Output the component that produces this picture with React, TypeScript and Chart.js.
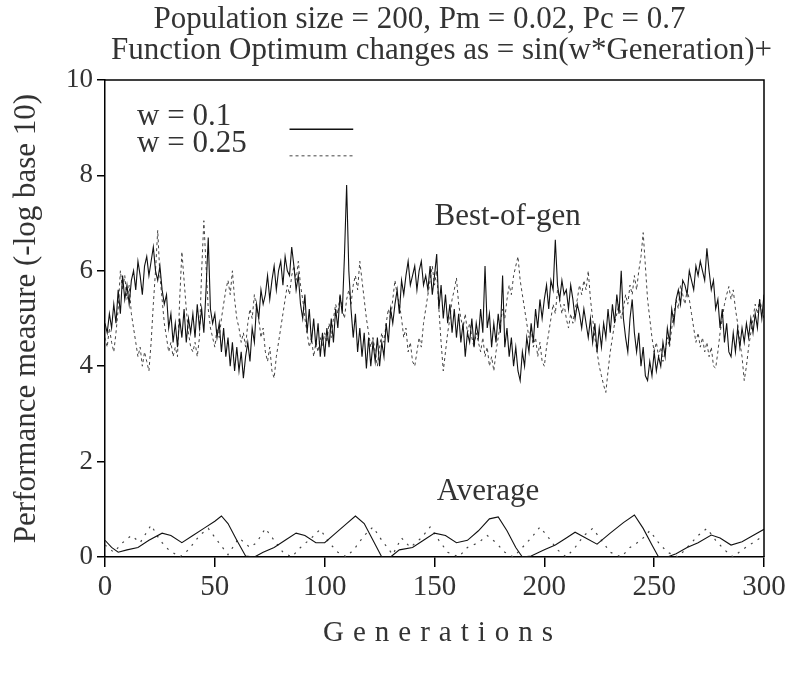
import React, { useEffect, useRef } from "react";
import { Chart, registerables } from "chart.js";

Chart.register(...registerables);

// ---------- DATA ----------
const titleLines = [
  "Population size = 200, Pm = 0.02, Pc = 0.7",
  "Function Optimum changes as = sin(w*Generation)+",
];
const yAxisTitle = "Performance measure (-log base 10)";
const xAxisTitle = "Generations";
const seriesLabels = ["w = 0.1", "w = 0.25"];
const yTicks = [0, 2, 4, 6, 8, 10];
const xTicks = [0, 50, 100, 150, 200, 250, 300];

// Best-of-generation, w = 0.1 (one value per generation 0..300)
const bestW01 = [
  4.9, 4.7, 5.1, 4.8, 5.3, 4.9, 5.6, 5.1, 5.9, 5.4,
  5.7, 5.3, 5.8, 6.0, 5.6, 6.2, 5.9, 5.5, 6.1, 6.3,
  5.9, 6.2, 6.5, 6.0, 5.8, 6.1, 5.6, 5.3, 5.5, 4.8,
  5.1, 4.5, 4.9, 4.4, 5.0, 4.6, 5.2, 4.5, 5.0, 4.7,
  5.1, 4.6, 5.3, 4.8, 5.2, 4.7, 5.6, 6.7, 5.2, 4.9,
  5.1, 4.6, 4.9, 4.3, 4.8, 4.2, 4.6, 4.0, 4.5, 3.9,
  4.4, 3.9, 4.3, 3.75, 4.2, 4.5, 4.1, 4.8, 4.5, 5.3,
  5.0, 5.6, 5.3, 5.5, 5.9, 5.4, 5.8, 6.1, 5.6, 6.0,
  6.2, 5.7, 6.3, 6.0, 5.9, 6.5, 6.1, 5.6, 5.9, 5.3,
  5.0, 5.5, 4.7, 5.2, 4.5, 5.0, 4.4, 4.9, 4.2, 4.7,
  4.2, 4.8, 4.4, 5.0, 4.5, 5.2, 4.8, 5.5, 5.1, 6.3,
  7.8, 6.0, 5.2, 4.6, 5.1, 4.3, 4.8, 4.2, 4.7, 3.95,
  4.6, 4.0, 4.5, 4.1, 4.6, 4.0, 4.5, 4.2, 4.9, 4.5,
  5.2, 4.9, 5.3, 5.6, 5.1, 5.8, 5.5, 5.9, 6.2, 5.7,
  5.9, 6.1, 5.6, 6.0, 6.2, 5.7, 5.9, 5.6, 6.1, 5.5,
  5.9, 6.35, 5.2, 5.7, 5.0, 5.5, 4.9, 5.3, 4.7, 5.2,
  4.6, 5.1, 4.5, 4.9, 4.2, 4.7, 4.5, 5.0, 4.4, 4.9,
  4.6, 5.2, 4.7, 6.1, 4.8, 5.1, 4.4, 4.9, 4.5, 5.1,
  4.7, 5.9, 4.4, 4.8, 4.2, 4.6, 4.0, 4.4, 3.9, 3.7,
  4.3, 4.0, 4.6, 4.3, 4.9, 4.5, 5.2, 4.8, 5.4, 5.0,
  5.4, 5.7, 5.2, 5.8, 5.6, 6.65, 5.7, 5.4, 5.8, 5.5,
  5.6, 5.2, 5.7, 5.4, 5.0, 5.3, 5.1, 4.8, 5.2, 4.9,
  4.6, 5.0, 4.5, 4.9, 4.3, 4.8, 4.4, 4.9, 4.6, 5.2,
  4.7, 5.3, 4.9, 5.5, 5.1, 6.0, 5.0, 4.6, 4.3, 5.0,
  5.4, 4.7, 4.3, 4.7, 4.0, 4.4, 3.8, 3.7, 4.1, 3.8,
  4.3, 3.9, 4.2, 4.0, 4.5, 4.2, 4.8, 4.5, 5.2, 4.9,
  5.4, 5.6, 5.3, 5.8, 5.7, 5.5, 6.0, 5.8, 5.6, 6.1,
  5.9, 6.2, 6.0, 5.8, 6.47, 6.0, 5.6, 5.8, 5.2, 5.4,
  4.8, 5.2, 4.5, 4.9, 4.3, 4.2, 4.7, 4.3, 4.8, 4.4,
  4.8, 4.5, 4.9, 4.6, 5.0, 4.7, 5.1, 4.8, 5.4, 5.0,
  5.5,
];

// Best-of-generation, w = 0.25 (one value per generation 0..300)
const bestW025 = [
  4.6, 4.4, 4.8, 4.5, 4.3, 4.7, 5.2, 6.0, 5.6, 5.9,
  5.4, 5.7, 5.1, 4.8, 4.5, 4.2, 4.4, 4.0, 4.3, 4.1,
  3.9, 4.5, 5.3, 6.0, 6.85, 5.9, 5.4, 4.9, 4.6, 4.3,
  4.5, 4.2, 4.4, 4.2, 5.4, 6.4, 5.8, 5.2, 4.7, 4.4,
  4.3, 4.5, 4.2, 4.6, 6.0, 7.05, 6.1, 5.2, 4.8, 4.6,
  4.4, 4.8, 4.6, 5.0, 5.3, 5.6, 5.8, 5.5, 6.0, 5.4,
  5.0, 4.8, 4.5, 4.7, 4.4, 4.9, 5.2, 5.0, 5.5, 5.2,
  5.0, 4.6, 4.8, 4.3, 4.1, 4.4, 3.9, 3.75, 4.2, 4.5,
  4.8, 5.1, 5.4, 5.7, 5.5, 5.9, 6.1, 5.8, 6.2, 5.7,
  5.4, 5.0, 4.7, 4.4, 4.6, 4.2, 4.5, 4.3, 4.6, 4.4,
  4.7, 4.5, 4.9, 4.6, 5.0, 5.3, 5.1, 5.5, 5.2, 5.0,
  5.4, 5.6, 5.3, 5.7, 5.9, 5.6, 6.2, 5.8, 5.4, 5.0,
  4.7, 4.4, 4.6, 4.3, 4.0, 4.4, 4.7, 4.5, 4.9, 5.2,
  5.0, 5.4, 5.8, 5.5, 5.3, 5.0, 4.6, 4.8, 4.3, 4.5,
  4.1, 4.0, 4.3, 4.6, 4.4, 4.9, 5.2, 5.5, 5.8, 6.1,
  5.7, 6.0, 5.2, 4.5, 3.9, 4.3, 4.7, 5.0, 5.4, 5.6,
  5.85, 5.3, 5.0, 4.8, 5.1, 4.7, 4.9, 4.6, 4.4, 4.7,
  4.5, 4.3, 4.6, 4.2, 4.4, 4.0, 4.2, 3.9, 4.3, 4.6,
  4.9, 5.2, 5.0, 5.4, 5.7, 5.5, 5.9, 6.1, 6.3, 5.8,
  5.5, 5.2, 4.9, 4.6, 4.8, 4.4, 4.6, 4.2, 4.5, 4.1,
  4.0, 4.4, 4.7, 5.0, 5.3, 5.1, 5.6, 5.4, 5.1, 5.3,
  5.0, 4.8, 5.1, 4.9, 5.2, 5.4, 5.7, 5.5, 5.8, 5.6,
  6.0, 5.4, 5.0, 4.6, 4.3, 4.0, 3.8, 3.6, 3.45, 3.9,
  4.3, 4.6, 4.9, 5.1, 5.3, 5.0, 5.2, 5.5, 5.3, 5.7,
  5.5, 5.9, 5.6, 6.0, 6.3, 6.8, 6.1, 5.4, 5.0, 4.6,
  4.3, 4.5, 4.2, 4.4, 4.1, 4.3, 4.6, 4.4, 4.8, 5.1,
  5.4, 5.2, 5.7, 5.5, 5.3, 5.6, 5.4, 5.1, 4.8, 4.5,
  4.7, 4.4, 4.6, 4.3, 4.5, 4.2, 4.4, 4.0, 3.96, 4.3,
  4.7, 5.0, 5.3, 5.5, 5.67, 5.4, 5.6, 5.2, 4.9, 4.5,
  4.2, 3.7, 4.0, 4.4, 4.7, 5.0, 5.3, 5.1, 5.4, 5.2,
  5.0,
];

// Population average, w = 0.1
const avgW01Gens = [
  0, 3, 6, 10, 15, 20, 26, 30, 35, 40, 45, 50, 53, 56, 60, 64, 68, 72, 77, 82,
  87, 91, 96, 100, 105, 110, 114, 118, 122, 126, 130, 134, 140, 145, 150, 155,
  160, 165, 170, 175, 179, 183, 187, 190, 194, 200, 205, 210, 214, 218, 224,
  230, 236, 241, 245, 249, 252, 256, 260, 265, 270, 276, 280, 285, 290, 295, 300,
];
const avgW01Vals = [
  0.35, 0.2, 0.1, 0.15, 0.2, 0.35, 0.5, 0.45, 0.3, 0.45, 0.6, 0.75, 0.86, 0.7, 0.35, 0.02, 0.0, 0.1, 0.2, 0.35,
  0.5, 0.45, 0.3, 0.3, 0.5, 0.7, 0.86, 0.7, 0.35, 0.0, 0.0, 0.15, 0.2, 0.35, 0.5, 0.45,
  0.3, 0.35, 0.55, 0.8, 0.84, 0.55, 0.2, 0.0, 0.02, 0.15, 0.25, 0.4, 0.52, 0.42, 0.27,
  0.5, 0.72, 0.88, 0.6, 0.25, 0.0, 0.0, 0.07, 0.2, 0.3, 0.46, 0.4, 0.25, 0.32, 0.45, 0.58,
];

// Population average, w = 0.25
const avgW025Gens = [
  0, 4, 8, 12, 16, 21, 25, 29, 34, 38, 43, 47, 51, 56, 61, 66, 69, 73, 77, 81,
  85, 89, 94, 98, 102, 106, 110, 114, 118, 122, 126, 131, 135, 139, 144, 148,
  152, 156, 161, 165, 170, 174, 178, 182, 186, 190, 194, 198, 202, 206, 210,
  214, 218, 222, 226, 230, 235, 239, 244, 248, 252, 256, 261, 265, 270, 274,
  278, 282, 286, 290, 295, 300,
];
const avgW025Vals = [
  0.25, 0.1, 0.3, 0.45, 0.3, 0.67, 0.35, 0.15, 0.0, 0.15, 0.45, 0.6, 0.35, 0.05, 0.4, 0.2, 0.3, 0.6, 0.35, 0.1,
  0.0, 0.2, 0.4, 0.58, 0.3, 0.1, 0.0, 0.2, 0.45, 0.63, 0.35, 0.05, 0.4, 0.2, 0.4, 0.63,
  0.35, 0.1, 0.0, 0.2, 0.3, 0.45, 0.3, 0.1, 0.0, 0.2, 0.4, 0.63, 0.4, 0.15, 0.0,
  0.2, 0.45, 0.6, 0.35, 0.1, 0.0, 0.2, 0.35, 0.55, 0.3, 0.1, 0.0, 0.2, 0.45, 0.6,
  0.35, 0.15, 0.0, 0.15, 0.3, 0.45,
];

const annotations = ["Best-of-gen", "Average"];

// ---------- STYLE / LAYOUT ----------
const SERIF = "'Liberation Serif', 'DejaVu Serif', serif";
const TEXT = "#333";
const LINE = "#111";
const DASH_LINE = "#444";

const toXY = (xs: number[], ys: number[]) => xs.map((x, i) => ({ x, y: ys[i] }));
const gens = bestW01.map((_, i) => i);

const decorPlugin = {
  id: "decor",
  afterDraw(chart: any) {
    const { ctx, chartArea, scales } = chart;
    const xs = scales.x;
    const ys = scales.y;
    const { left, right, top, bottom } = chartArea;
    ctx.save();
    // frame (top & right)
    ctx.strokeStyle = "#000";
    ctx.lineWidth = 1.5;
    ctx.beginPath();
    ctx.moveTo(left, top);
    ctx.lineTo(right, top);
    ctx.lineTo(right, bottom);
    ctx.stroke();

    ctx.fillStyle = TEXT;
    ctx.textBaseline = "alphabetic";
    // titles
    ctx.font = `31px ${SERIF}`;
    ctx.textAlign = "center";
    const cx = (left + right) / 2;
    ctx.fillText(titleLines[0], cx - 15, 28);
    ctx.fillText(titleLines[1], cx + 7, 59);

    // y axis title
    ctx.save();
    ctx.translate(27, (top + bottom) / 2);
    ctx.rotate(-Math.PI / 2);
    ctx.font = `31px ${SERIF}`;
    ctx.textAlign = "center";
    ctx.textBaseline = "middle";
    ctx.fillText(yAxisTitle, 0, 0);
    ctx.restore();

    // x axis title (letter-spaced)
    ctx.font = `29px ${SERIF}`;
    ctx.textAlign = "center";
    (ctx as any).letterSpacing = "9px";
    ctx.fillText(xAxisTitle, cx + 8, 641);
    (ctx as any).letterSpacing = "0px";

    // legend
    ctx.font = `31px ${SERIF}`;
    ctx.textAlign = "left";
    ctx.fillText(seriesLabels[0], xs.getPixelForValue(14.6), ys.getPixelForValue(9.06));
    ctx.fillText(seriesLabels[1], xs.getPixelForValue(14.6), ys.getPixelForValue(8.49));
    ctx.strokeStyle = LINE;
    ctx.lineWidth = 1.5;
    ctx.beginPath();
    ctx.moveTo(xs.getPixelForValue(84), ys.getPixelForValue(8.97));
    ctx.lineTo(xs.getPixelForValue(113), ys.getPixelForValue(8.97));
    ctx.stroke();
    ctx.strokeStyle = DASH_LINE;
    ctx.lineWidth = 1;
    ctx.setLineDash([3, 3]);
    ctx.beginPath();
    ctx.moveTo(xs.getPixelForValue(84), ys.getPixelForValue(8.41));
    ctx.lineTo(xs.getPixelForValue(113), ys.getPixelForValue(8.41));
    ctx.stroke();
    ctx.setLineDash([]);

    // annotations
    ctx.font = `31px ${SERIF}`;
    ctx.fillText(annotations[0], xs.getPixelForValue(150), ys.getPixelForValue(6.96));
    ctx.fillText(annotations[1], xs.getPixelForValue(151), ys.getPixelForValue(1.19));
    ctx.restore();
  },
};

export default function App() {
  const ref = useRef<HTMLCanvasElement | null>(null);

  useEffect(() => {
    if (!ref.current) return;
    const chart = new Chart(ref.current, {
      type: "line",
      data: {
        datasets: [
          {
            label: seriesLabels[0],
            data: toXY(gens, bestW01),
            borderColor: LINE,
            borderWidth: 1.1,
            pointRadius: 0,
            tension: 0,
            order: 0,
          },
          {
            label: seriesLabels[1],
            data: toXY(gens, bestW025),
            borderColor: DASH_LINE,
            borderWidth: 1,
            borderDash: [3, 3],
            pointRadius: 0,
            tension: 0,
            order: 1,
          },
          {
            label: seriesLabels[0] + " avg",
            data: toXY(avgW01Gens, avgW01Vals),
            borderColor: LINE,
            borderWidth: 1.1,
            pointRadius: 0,
            tension: 0,
            order: 0,
          },
          {
            label: seriesLabels[1] + " avg",
            data: toXY(avgW025Gens, avgW025Vals),
            borderColor: DASH_LINE,
            borderWidth: 1.2,
            borderDash: [2, 6],
            pointRadius: 0,
            tension: 0,
            order: 1,
          },
        ],
      },
      options: {
        animation: false,
        responsive: false,
        devicePixelRatio: 1,
        events: [],
        layout: { padding: { top: 80, right: 38, left: 0, bottom: 0 } },
        plugins: { legend: { display: false }, title: { display: false }, tooltip: { enabled: false } },
        scales: {
          x: {
            type: "linear",
            min: 0,
            max: 300,
            afterFit: (s: any) => { s.height = 117; },
            afterBuildTicks: (s: any) => { s.ticks = xTicks.map((v) => ({ value: v })); },
            ticks: {
              font: { family: SERIF, size: 29 },
              color: TEXT,
              padding: 3,
              maxRotation: 0,
              autoSkip: false,
            },
            grid: { drawOnChartArea: false, drawTicks: true, tickLength: 10, color: "#000", lineWidth: 1.5 },
            border: { display: true, color: "#000", width: 1.5 },
          },
          y: {
            type: "linear",
            min: 0,
            max: 10,
            afterFit: (s: any) => { s.width = 105; },
            afterBuildTicks: (s: any) => { s.ticks = yTicks.map((v) => ({ value: v })); },
            ticks: {
              font: { family: SERIF, size: 27 },
              color: TEXT,
              padding: 4,
              autoSkip: false,
            },
            grid: { drawOnChartArea: false, drawTicks: true, tickLength: 8, color: "#000", lineWidth: 1.5 },
            border: { display: true, color: "#000", width: 1.5 },
          },
        },
      },
      plugins: [decorPlugin],
    });
    return () => chart.destroy();
  }, []);

  return (
    <div style={{ position: "fixed", left: 0, top: 0, width: 802, height: 674, background: "#fff" }}>
      <canvas ref={ref} width={802} height={674} style={{ display: "block", width: 802, height: 674 }} />
    </div>
  );
}
